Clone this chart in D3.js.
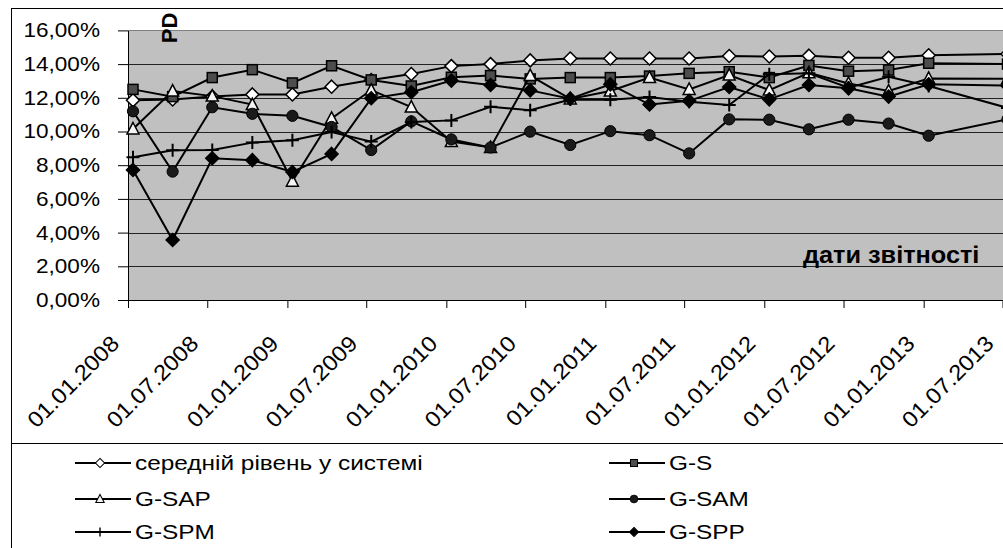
<!DOCTYPE html>
<html>
<head>
<meta charset="utf-8">
<script src="https://cdn.jsdelivr.net/npm/d3@7"></script>
<style>
  body { margin: 0; background: #fff; }
  svg { display: block; font-family: Arial, "Liberation Sans", sans-serif; }
</style>
</head>
<body>
<div id="chart"></div>
<script>
// reporting dates (quarterly, last one off the visible edge)
const reportDates = ['01.01.2008','01.04.2008','01.07.2008','01.10.2008','01.01.2009','01.04.2009','01.07.2009','01.10.2009',
  '01.01.2010','01.04.2010','01.07.2010','01.10.2010','01.01.2011','01.04.2011','01.07.2011','01.10.2011',
  '01.01.2012','01.04.2012','01.07.2012','01.10.2012','01.01.2013','01.07.2013'];
const tickLabels = ['01.01.2008','01.07.2008','01.01.2009','01.07.2009','01.01.2010','01.07.2010',
  '01.01.2011','01.07.2011','01.01.2012','01.07.2012','01.01.2013','01.07.2013'];
const yTicks = [0, 2, 4, 6, 8, 10, 12, 14, 16];

const seriesNames = ['середній рівень у системі', 'G-S', 'G-SAP', 'G-SAM', 'G-SPM', 'G-SPP'];
const avgLevel = [11.85, 11.9, 12.07, 12.2, 12.2, 12.66, 13.06, 13.41, 13.88, 14.0, 14.22, 14.33, 14.33, 14.33, 14.33, 14.48, 14.45, 14.5, 14.38, 14.38, 14.52, 14.6];
const gS   = [12.5, 12.07, 13.2, 13.67, 12.88, 13.9, 13.06, 12.7, 13.22, 13.32, 13.12, 13.2, 13.2, 13.29, 13.45, 13.55, 13.2, 13.92, 13.58, 13.65, 14.05, 14.0];
const gSAP = [10.15, 12.4, 12.1, 11.6, 7.05, 10.78, 12.46, 11.45, 9.4, 9.05, 13.32, 11.93, 12.4, 13.2, 12.5, 13.35, 12.46, 13.48, 12.85, 12.4, 13.15, 13.13];
const gSAM = [11.2, 7.62, 11.44, 11.05, 10.93, 10.27, 8.9, 10.6, 9.53, 9.05, 9.99, 9.2, 10.02, 9.78, 8.7, 10.72, 10.7, 10.13, 10.7, 10.47, 9.75, 10.72];
const gSPM = [8.47, 8.88, 8.9, 9.34, 9.48, 9.97, 9.4, 10.56, 10.66, 11.47, 11.26, 11.9, 11.89, 12.05, 11.77, 11.57, 13.4, 13.45, 12.6, 13.25, 12.7, 11.4];
const gSPP = [7.72, 3.56, 8.41, 8.3, 7.6, 8.67, 11.97, 12.33, 13.02, 12.76, 12.44, 11.95, 12.8, 11.6, 11.82, 12.64, 11.91, 12.76, 12.56, 12.07, 12.8, 12.72];
const seriesValues = [avgLevel, gS, gSAP, gSAM, gSPM, gSPP];
const markerTypes = ['diamondOpen', 'square', 'triangle', 'circle', 'plus', 'diamond'];

const W = 1003, H = 548;
const plot = { left: 128, top: 30.4, bottom: 300, right: 1002.5 };
const shift = 5; // points sit slightly right of their tick

const parse = d3.timeParse('%d.%m.%Y');
const svg = d3.select('#chart').append('svg').attr('width', W).attr('height', H);

// outer chart frame and legend frame
svg.append('rect').attr('x', 11.5).attr('y', 8.5).attr('width', 1100).attr('height', 700)
  .attr('fill', '#fff').attr('stroke', '#000');
svg.append('rect').attr('x', 11.5).attr('y', 443.5).attr('width', 1100).attr('height', 300)
  .attr('fill', '#fff').attr('stroke', '#000');

const x = d3.scaleTime().domain([parse(tickLabels[0]), parse(tickLabels[tickLabels.length - 1])])
  .range([plot.left, plot.right]);
const y = d3.scaleLinear().domain([0, 16]).range([plot.bottom, plot.top]);

// plot background
svg.append('rect').attr('x', plot.left).attr('y', plot.top)
  .attr('width', W - plot.left).attr('height', plot.bottom - plot.top).attr('fill', '#c0c0c0');

// gridlines
svg.append('g').selectAll('line').data(yTicks.filter(v => v > 0)).join('line')
  .attr('x1', plot.left).attr('x2', W)
  .attr('y1', d => Math.round(y(d)) + 0.5).attr('y2', d => Math.round(y(d)) + 0.5)
  .attr('stroke', d => d === 16 ? '#808080' : '#222').attr('stroke-width', 1);

// y axis
const fmt = v => v.toFixed(2).replace('.', ',') + '%';
const yAxis = svg.append('g').attr('transform', `translate(${plot.left},0)`)
  .call(d3.axisLeft(y).tickValues(yTicks).tickSize(10).tickSizeOuter(0).tickFormat(fmt));
yAxis.select('.domain').attr('stroke', '#000');
yAxis.selectAll('.tick line').attr('stroke', '#000');
yAxis.selectAll('.tick text').attr('font-size', 20).attr('font-family', 'Arial, "Liberation Sans", sans-serif')
  .attr('fill', '#000').attr('x', -28 / 1.13).attr('transform', 'scale(1.13,1)');

// x axis
const xAxis = svg.append('g').attr('transform', `translate(0,${plot.bottom})`)
  .call(d3.axisBottom(x).tickValues(tickLabels.map(parse)).tickSize(8).tickSizeOuter(0)
    .tickFormat(d3.timeFormat('%d.%m.%Y')));
xAxis.select('.domain').attr('stroke', '#000').attr('d', `M${plot.left},0.5H${W}`);
xAxis.selectAll('.tick line').attr('stroke', '#000');
xAxis.selectAll('.tick text').attr('font-size', 22).attr('font-family', 'Arial, "Liberation Sans", sans-serif')
  .attr('fill', '#000').attr('text-anchor', 'end').attr('x', 0).attr('y', 0).attr('dy', 0)
  .attr('transform', 'translate(-8,45) rotate(-45) scale(1.08,1)');

// axis titles
svg.append('text').text('PD').attr('transform', 'translate(177,28) rotate(-90)')
  .attr('text-anchor', 'middle').attr('font-weight', 'bold').attr('font-size', 22);
svg.append('text').text('дати звітності').attr('x', 803 / 1.1).attr('y', 263)
  .attr('transform', 'scale(1.1,1)').attr('font-weight', 'bold').attr('font-size', 23);

// markers
function drawMarker(g, type, cx, cy, s) {
  const m = g.append('g').attr('transform', `translate(${cx},${cy}) scale(${s})`);
  if (type === 'diamondOpen' || type === 'diamond') {
    m.append('path').attr('d', 'M0,-6.5L6.5,0L0,6.5L-6.5,0Z')
      .attr('fill', type === 'diamond' ? '#000' : '#fff').attr('stroke', '#000').attr('stroke-width', 1.5);
  } else if (type === 'square') {
    m.append('rect').attr('x', -5).attr('y', -5).attr('width', 10).attr('height', 10)
      .attr('fill', '#4d4d4d').attr('stroke', '#000').attr('stroke-width', 1.5);
  } else if (type === 'triangle') {
    m.append('path').attr('d', 'M0,-6.5L6,5L-6,5Z')
      .attr('fill', '#f4f4f4').attr('stroke', '#000').attr('stroke-width', 1.5);
  } else if (type === 'circle') {
    m.append('circle').attr('r', 5.6).attr('fill', '#1a1a1a').attr('stroke', '#000').attr('stroke-width', 1);
  } else if (type === 'plus') {
    m.append('path').attr('d', 'M-6.5,0H6.5M0,-6.5V6.5').attr('stroke', '#000').attr('stroke-width', 2);
  }
}

const line = d3.line()
  .x((d, i) => x(parse(reportDates[i])) + shift)
  .y(d => y(d));

const series = svg.append('g');
seriesValues.forEach((vals, si) => {
  const g = series.append('g');
  g.append('path').attr('d', line(vals)).attr('fill', 'none').attr('stroke', '#000').attr('stroke-width', 2);
  vals.forEach((v, i) => drawMarker(g, markerTypes[si], x(parse(reportDates[i])) + shift, y(v), 1));
});

// legend
const legendCols = [75, 609];
const legendRows = [463, 499, 532];
seriesNames.forEach((name, i) => {
  const lx = legendCols[i % 2], ly = legendRows[Math.floor(i / 2)];
  const g = svg.append('g');
  g.append('line').attr('x1', lx).attr('x2', lx + 56).attr('y1', ly).attr('y2', ly)
    .attr('stroke', '#000').attr('stroke-width', 2);
  drawMarker(g, markerTypes[i], lx + 25, ly, 0.7);
  g.append('text').text(name).attr('x', (lx + 60) / 1.22).attr('y', ly).attr('dy', '0.36em')
    .attr('transform', 'scale(1.22,1)').attr('font-size', 20).attr('fill', '#000');
});
</script>
</body>
</html>
